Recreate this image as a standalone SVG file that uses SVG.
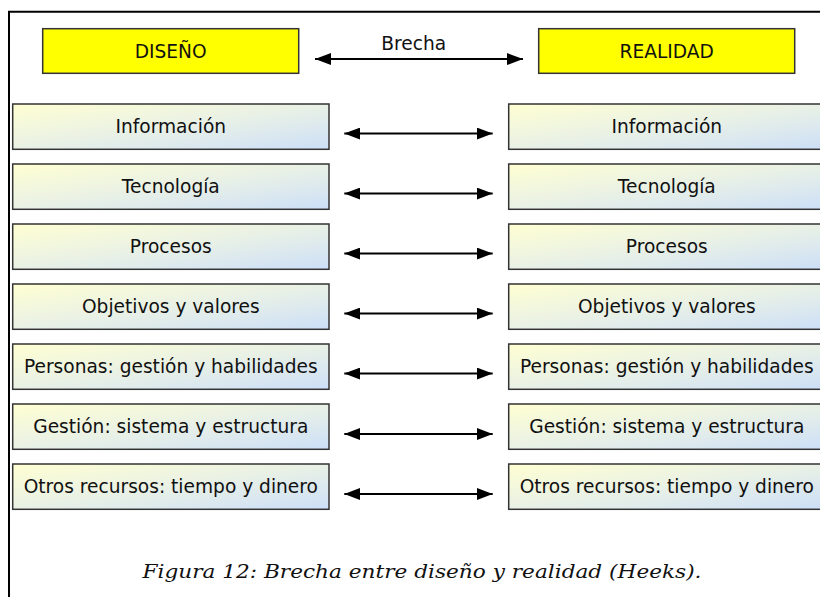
<svg xmlns="http://www.w3.org/2000/svg" width="820" height="597" viewBox="0 0 820 597">
<defs>
<linearGradient id="g" x1="0" y1="0" x2="1" y2="1">
<stop offset="0" stop-color="#ffffd2"/>
<stop offset="0.5" stop-color="#e9f1e6"/>
<stop offset="1" stop-color="#cddff8"/>
</linearGradient>
<marker id="ah" viewBox="0 0 16 12" refX="16" refY="6" markerWidth="16" markerHeight="12" markerUnits="userSpaceOnUse" orient="auto-start-reverse">
<path d="M0,0 L16,6 L0,12 Z" fill="#000"/>
</marker>
<style>
.box{fill:url(#g);stroke:#333;stroke-width:1.5}
.ybox{fill:#ffff00;stroke:#333;stroke-width:1.5}
.t{font-family:"DejaVu Sans",sans-serif;font-size:18.6px;fill:#111;text-anchor:middle}
.c{stroke:#000;stroke-width:2;fill:none;marker-start:url(#ah);marker-end:url(#ah)}
.cap{font-family:"DejaVu Serif",serif;font-style:italic;font-size:18px;fill:#111;text-anchor:middle}
</style>
</defs>
<path d="M9,597 V11.7 H820" fill="none" stroke="#000" stroke-width="2"/>
<g id="diseno"><rect class="ybox" x="42.7" y="28.7" width="256" height="44.6"/><text class="t" x="170.7" y="58">DISEÑO</text></g>
<g id="realidad"><rect class="ybox" x="538.7" y="28.7" width="256" height="44.6"/><text class="t" x="666.7" y="58">REALIDAD</text></g>
<text class="t" x="413.7" y="50">Brecha</text>
<g id="l1"><rect class="box" x="12.7" y="104" width="316.3" height="45.3"/><text class="t" x="170.8" y="133">Información</text></g>
<g id="l2"><rect class="box" x="12.7" y="164" width="316.3" height="45.3"/><text class="t" x="170.8" y="193">Tecnología</text></g>
<g id="l3"><rect class="box" x="12.7" y="224" width="316.3" height="45.3"/><text class="t" x="170.8" y="253">Procesos</text></g>
<g id="l4"><rect class="box" x="12.7" y="284" width="316.3" height="45.3"/><text class="t" x="170.8" y="313">Objetivos y valores</text></g>
<g id="l5"><rect class="box" x="12.7" y="344" width="316.3" height="45.3"/><text class="t" x="170.8" y="373">Personas: gestión y habilidades</text></g>
<g id="l6"><rect class="box" x="12.7" y="404" width="316.3" height="45.3"/><text class="t" x="170.8" y="433">Gestión: sistema y estructura</text></g>
<g id="l7"><rect class="box" x="12.7" y="464" width="316.3" height="45.3"/><text class="t" x="170.8" y="493">Otros recursos: tiempo y dinero</text></g>
<g id="r1"><rect class="box" x="508.7" y="104" width="316.3" height="45.3"/><text class="t" x="666.8" y="133">Información</text></g>
<g id="r2"><rect class="box" x="508.7" y="164" width="316.3" height="45.3"/><text class="t" x="666.8" y="193">Tecnología</text></g>
<g id="r3"><rect class="box" x="508.7" y="224" width="316.3" height="45.3"/><text class="t" x="666.8" y="253">Procesos</text></g>
<g id="r4"><rect class="box" x="508.7" y="284" width="316.3" height="45.3"/><text class="t" x="666.8" y="313">Objetivos y valores</text></g>
<g id="r5"><rect class="box" x="508.7" y="344" width="316.3" height="45.3"/><text class="t" x="666.8" y="373">Personas: gestión y habilidades</text></g>
<g id="r6"><rect class="box" x="508.7" y="404" width="316.3" height="45.3"/><text class="t" x="666.8" y="433">Gestión: sistema y estructura</text></g>
<g id="r7"><rect class="box" x="508.7" y="464" width="316.3" height="45.3"/><text class="t" x="666.8" y="493">Otros recursos: tiempo y dinero</text></g>
<g id="connectors">
<line class="c" x1="315" y1="59" x2="523" y2="59"/>
<line class="c" x1="344.3" y1="133.5" x2="492.7" y2="133.5"/>
<line class="c" x1="344.3" y1="193.5" x2="492.7" y2="193.5"/>
<line class="c" x1="344.3" y1="253.5" x2="492.7" y2="253.5"/>
<line class="c" x1="344.3" y1="313.5" x2="492.7" y2="313.5"/>
<line class="c" x1="344.3" y1="373.5" x2="492.7" y2="373.5"/>
<line class="c" x1="344.3" y1="434" x2="492.7" y2="434"/>
<line class="c" x1="344.3" y1="494" x2="492.7" y2="494"/>
</g>
<text class="cap" x="422" y="578.3" textLength="559" lengthAdjust="spacingAndGlyphs">Figura 12: Brecha entre diseño y realidad (Heeks).</text>
</svg>
